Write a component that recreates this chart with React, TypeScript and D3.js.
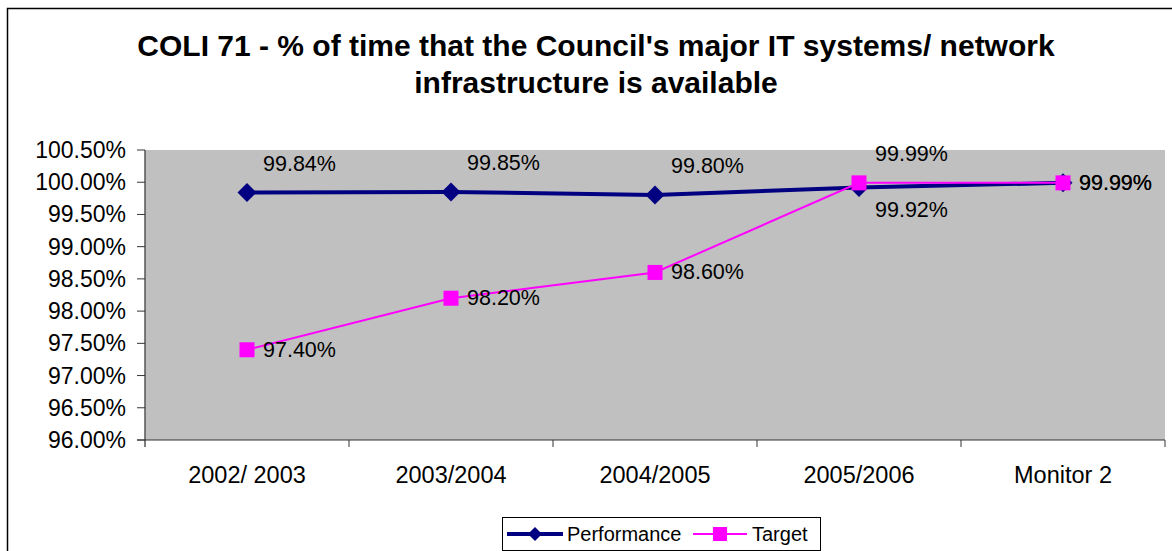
import React from "react";
import * as d3 from "d3";

const categories = ["2002/ 2003", "2003/2004", "2004/2005", "2005/2006", "Monitor 2"];
const performance = [99.84, 99.85, 99.8, 99.92, 99.99];
const target = [97.4, 98.2, 98.6, 99.99, 99.99];
const perfLabelPos = ["above", "above", "above", "below", "right"];
const targetLabelPos = ["right", "right", "right", "above", "right"];
const yTicks = [96, 96.5, 97, 97.5, 98, 98.5, 99, 99.5, 100, 100.5];
const titleLines = [
  "COLI 71 - % of time that the Council's major IT systems/ network",
  "infrastructure is available",
];

const W = 1172;
const H = 551;
const plot = { left: 145, top: 150, right: 1165, bottom: 440 };
const FONT = "'Liberation Sans', Arial, Helvetica, sans-serif";

export default function App() {
  const x = d3
    .scaleBand<string>()
    .domain(categories)
    .range([plot.left, plot.right])
    .paddingInner(0)
    .paddingOuter(0);
  const cx = (c: string) => (x(c) as number) + x.bandwidth() / 2;
  const y = d3.scaleLinear().domain([96, 100.5]).range([plot.bottom, plot.top]);
  const line = d3
    .line<number>()
    .x((_, i) => cx(categories[i]))
    .y((d) => y(d));
  const fmt = (v: number) => v.toFixed(2) + "%";

  const label = (v: number, i: number, pos: string, key: string) => {
    const px = cx(categories[i]);
    const py = y(v);
    let ty = py;
    let db: any = "central";
    if (pos === "above") {
      ty = py - 22;
      db = "auto";
    } else if (pos === "below") {
      ty = py + 30;
      db = "auto";
    }
    return (
      <text key={key} x={px + 16} y={ty} dominantBaseline={db} fontSize={21.5} fill="#000">
        {fmt(v)}
      </text>
    );
  };

  const diamondPath = (r: number) => `M0,${-r}L${r},0L0,${r}L${-r},0Z`;

  return (
    <svg
      width={W}
      height={H}
      style={{ position: "absolute", left: 0, top: 0, background: "#fff" }}
      fontFamily={FONT}
    >
      <rect x={7.5} y={8.5} width={1200} height={600} fill="#fff" stroke="#000" strokeWidth={1.5} />
      {titleLines.map((t, i) => (
        <text
          key={i}
          x={596}
          y={56 + i * 37}
          textAnchor="middle"
          fontWeight="bold"
          fontSize={30}
          fill="#000"
        >
          {t}
        </text>
      ))}
      <rect
        x={plot.left}
        y={plot.top}
        width={plot.right - plot.left}
        height={plot.bottom - plot.top}
        fill="#C0C0C0"
      />
      {/* y axis */}
      <line x1={plot.left} x2={plot.left} y1={plot.top} y2={plot.bottom + 7} stroke="#555" strokeWidth={1.5} />
      {yTicks.map((t) => (
        <g key={t}>
          <line x1={plot.left - 8} x2={plot.left} y1={y(t)} y2={y(t)} stroke="#333" strokeWidth={1} />
          <text
            x={126}
            y={y(t)}
            textAnchor="end"
            dominantBaseline="central"
            fontSize={23}
            fill="#000"
          >
            {t.toFixed(2) + "%"}
          </text>
        </g>
      ))}
      {/* x axis */}
      <line x1={plot.left - 8} x2={plot.right} y1={plot.bottom} y2={plot.bottom} stroke="#333" strokeWidth={1} />
      {categories.map((c, i) => (
        <g key={c}>
          <line
            x1={(x(c) as number) + x.bandwidth()}
            x2={(x(c) as number) + x.bandwidth()}
            y1={plot.bottom}
            y2={plot.bottom + 7}
            stroke="#333"
            strokeWidth={1}
          />
          <text x={cx(c)} y={483} textAnchor="middle" fontSize={23.5} fill="#000">
            {c}
          </text>
        </g>
      ))}
      {/* performance */}
      <path d={line(performance) || ""} fill="none" stroke="#000080" strokeWidth={4} />
      {performance.map((v, i) => (
        <path key={i} d={diamondPath(9.5)} transform={`translate(${cx(categories[i])},${y(v)})`} fill="#000080" />
      ))}
      {/* target */}
      <path d={line(target) || ""} fill="none" stroke="#FF00FF" strokeWidth={2} />
      {target.map((v, i) => (
        <rect key={i} x={cx(categories[i]) - 7.5} y={y(v) - 7.5} width={15} height={15} fill="#FF00FF" />
      ))}
      {performance.map((v, i) => label(v, i, perfLabelPos[i], "p" + i))}
      {target.map((v, i) => label(v, i, targetLabelPos[i], "t" + i))}
      {/* legend */}
      <rect x={502.5} y={517.5} width={318} height={33} fill="#fff" stroke="#000" strokeWidth={1} />
      <line x1={507} x2={563} y1={534} y2={534} stroke="#000080" strokeWidth={4} />
      <path d={diamondPath(7)} transform="translate(535,534)" fill="#000080" />
      <text x={567} y={534} dominantBaseline="central" fontSize={20} fill="#000">
        Performance
      </text>
      <line x1={693} x2={747} y1={534} y2={534} stroke="#FF00FF" strokeWidth={2} />
      <rect x={713} y={527} width={14} height={14} fill="#FF00FF" />
      <text x={752} y={534} dominantBaseline="central" fontSize={20} fill="#000">
        Target
      </text>
    </svg>
  );
}
